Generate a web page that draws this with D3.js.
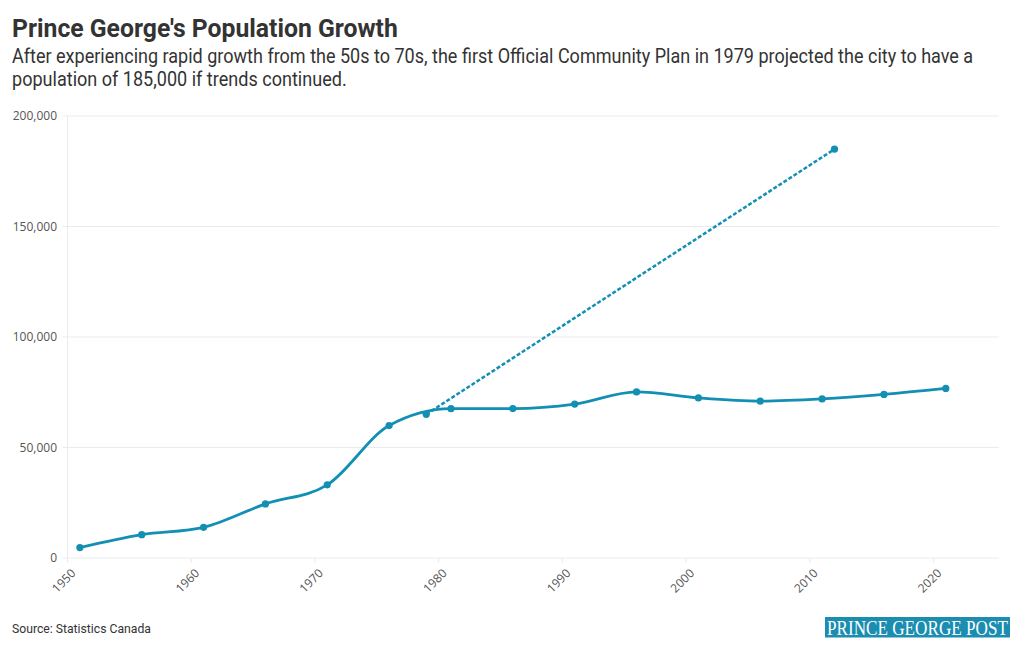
<!DOCTYPE html>
<html>
<head>
<meta charset="utf-8">
<script src="https://cdn.jsdelivr.net/npm/d3@7"></script>
<style>
  html, body { margin: 0; padding: 0; background: #fff; }
  svg { display: block; }
</style>
</head>
<body>
<svg id="chart" width="1020" height="650"></svg>
<script>
// ---- Data ----
const years = [1951, 1956, 1961, 1966, 1971, 1976, 1981, 1986, 1991, 1996, 2001, 2006, 2011, 2016, 2021];
const population = [4700, 10560, 13880, 24470, 33100, 59930, 67560, 67620, 69650, 75150, 72410, 70980, 71970, 74000, 76710];
const projectionYears = [1979, 2012];
const projectionValues = [65000, 185000];
const yTicks = [0, 50000, 100000, 150000, 200000];
const xTicks = [1950, 1960, 1970, 1980, 1990, 2000, 2010, 2020];

const title = "Prince George's Population Growth";
const subtitleLines = [
  "After experiencing rapid growth from the 50s to 70s, the first Official Community Plan in 1979 projected the city to have a",
  "population of 185,000 if trends continued."
];
const source = "Source: Statistics Canada";
const logo = "PRINCE GEORGE POST";

// ---- Layout ----
const color = "#128fb3";
const svg = d3.select("#chart");
const pLeft = 67.5, pRight = 999, pTop = 116, pBottom = 558;

const x = d3.scaleLinear().domain([1950, 2025.3]).range([pLeft, pRight]);
const y = d3.scaleLinear().domain([0, 200000]).range([pBottom, pTop]);

// condensed text: draw at origin, measure, then scale horizontally to a target width
function condensed(parent, str, px, py, targetW, attrs) {
  const t = parent.append("text").attr("x", 0).attr("y", 0).text(str);
  Object.entries(attrs).forEach(([k, v]) => t.attr(k, v));
  const w = t.node().getComputedTextLength();
  const s = Math.min(1, targetW / w);
  t.attr("transform", `translate(${px},${py}) scale(${s},1)`);
  return t;
}

// Title / subtitle
condensed(svg, title, 12, 36.5, 386,
  {"font-family": "Roboto", "font-weight": 700, "font-size": 25.5, "fill": "#333"});
const subW = [962, 335];
subtitleLines.forEach((t, i) => {
  condensed(svg, t, 12, 63 + i * 23, subW[i],
    {"font-family": "Roboto", "font-size": 19.5, "fill": "#333"});
});

// Gridlines (horizontal)
const g = svg.append("g");
g.selectAll("line.hgrid").data(yTicks).join("line").attr("class", "hgrid")
  .attr("x1", pLeft - 5).attr("x2", pRight)
  .attr("y1", d => y(d)).attr("y2", d => y(d))
  .attr("stroke", "#ebebeb").attr("stroke-width", 1);
// left vertical line
g.append("line").attr("x1", pLeft).attr("x2", pLeft).attr("y1", pTop).attr("y2", pBottom)
  .attr("stroke", "#ebebeb");
// x ticks
g.selectAll("line.xtick").data(xTicks).join("line").attr("class", "xtick")
  .attr("x1", d => x(d)).attr("x2", d => x(d))
  .attr("y1", pBottom).attr("y2", pBottom + 5)
  .attr("stroke", "#ebebeb");

// Y labels
g.selectAll("text.ylab").data(yTicks).join("text").attr("class", "ylab")
  .attr("x", 57).attr("y", d => y(d)).attr("dy", "0.35em")
  .attr("text-anchor", "end")
  .attr("font-family", "Open Sans").attr("font-size", 12).attr("fill", "#555")
  .text(d => d3.format(",")(d));

// X labels
g.selectAll("text.xlab").data(xTicks).join("text").attr("class", "xlab")
  .attr("transform", d => `translate(${x(d) + 6},${pBottom + 13}) rotate(-45)`)
  .attr("text-anchor", "end").attr("dy", "0.35em")
  .attr("font-family", "Open Sans").attr("font-size", 12).attr("fill", "#555")
  .text(d => d);

// Projection dashed line
const projData = projectionYears.map((yr, i) => [yr, projectionValues[i]]);
svg.append("path").datum(projData)
  .attr("d", d3.line().x(d => x(d[0])).y(d => y(d[1])))
  .attr("fill", "none").attr("stroke", color).attr("stroke-width", 2.5)
  .attr("stroke-dasharray", "4,2");

// Main line
const data = years.map((yr, i) => [yr, population[i]]);
svg.append("path").datum(data)
  .attr("d", d3.line().curve(d3.curveMonotoneX).x(d => x(d[0])).y(d => y(d[1])))
  .attr("fill", "none").attr("stroke", color).attr("stroke-width", 2.8)
  .attr("stroke-linejoin", "round");

svg.selectAll("circle.pt").data(data.concat(projData)).join("circle").attr("class", "pt")
  .attr("cx", d => x(d[0])).attr("cy", d => y(d[1])).attr("r", 3.6)
  .attr("fill", color);

// Source
condensed(svg, source, 12, 633, 139,
  {"font-family": "Roboto", "font-size": 13.5, "fill": "#333"});

// Logo
svg.append("rect").attr("x", 825).attr("y", 617).attr("width", 185).attr("height", 20.5)
  .attr("fill", "#1a8db0");
condensed(svg, logo, 827, 634.5, 181,
  {"font-family": "Liberation Serif", "font-size": 22, "fill": "#fff"});
</script>
</body>
</html>
